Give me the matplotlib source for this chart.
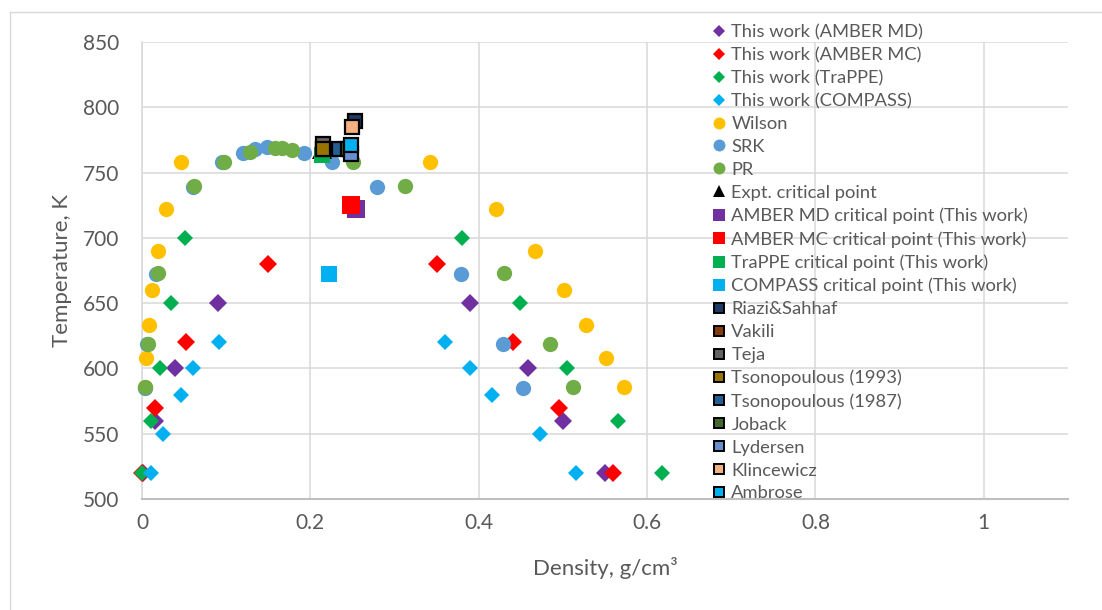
import matplotlib
matplotlib.use("Agg")
import matplotlib.pyplot as plt
from matplotlib.lines import Line2D

plt.rcParams['font.family'] = ['Lato', 'DejaVu Sans']

# ---- coexistence curves (density g/cm3, temperature K) ----
md_rho = [0.001, 0.015, 0.039, 0.090, 0.390, 0.458, 0.500, 0.550]
md_T = [520, 560, 600, 650, 650, 600, 560, 520]

mc_rho = [0.000, 0.015, 0.052, 0.150, 0.350, 0.441, 0.495, 0.560]
mc_T = [520, 570, 620, 680, 680, 620, 570, 520]

trappe_rho = [0.000, 0.011, 0.021, 0.035, 0.051, 0.380, 0.449, 0.505, 0.565, 0.618]
trappe_T = [520, 560, 600, 650, 700, 700, 650, 600, 560, 520]

compass_rho = [0.011, 0.025, 0.046, 0.061, 0.091, 0.360, 0.390, 0.416, 0.473, 0.515]
compass_T = [520, 550, 580, 600, 620, 620, 600, 580, 550, 520]

wilson_rho = [0.004, 0.005, 0.008, 0.012, 0.019, 0.029, 0.046,
              0.342, 0.421, 0.467, 0.501, 0.528, 0.551, 0.572]
wilson_T = [586, 608, 633, 660, 690, 722, 758, 758, 722, 690, 660, 633, 608, 586]

srk_rho = [0.003, 0.006, 0.017, 0.060, 0.095, 0.120, 0.134, 0.148,
           0.192, 0.226, 0.279, 0.379, 0.429, 0.452]
srk_T = [585, 619, 672, 739, 758, 765, 768, 769.5, 765, 758, 739, 672, 619, 585]

pr_rho = [0.004, 0.007, 0.019, 0.062, 0.098, 0.128, 0.158, 0.166,
          0.178, 0.251, 0.313, 0.430, 0.485, 0.512]
pr_T = [585.5, 619, 673, 739.5, 758, 766, 768.5, 768.5, 767.5, 758, 739.5, 673, 619, 585.5]

# ---- critical points (density, temperature) ----
expt_crit = (0.2134, 767.7)
md_crit = (0.2544, 722.3)
mc_crit = (0.2486, 725.4)
trappe_crit = (0.2140, 763.6)
compass_crit = (0.2217, 672.0)

riazi_crit = (0.2530, 789.3)
vakili_crit = (0.2150, 768.3)
teja_crit = (0.2155, 771.9)
tsono1993_crit = (0.2150, 768.3)
tsono1987_crit = (0.2346, 768.3)
joback_crit = (0.2447, 767.7)
lydersen_crit = (0.2486, 764.6)
klincewicz_crit = (0.2496, 784.8)
ambrose_crit = (0.2486, 771.4)

x_ticks = [0, 0.2, 0.4, 0.6, 0.8, 1.0]
x_tick_labels = ['0', '0.2', '0.4', '0.6', '0.8', '1']
y_ticks = [500, 550, 600, 650, 700, 750, 800, 850]

TEXT = '#595959'
GRID = '#D9D9D9'

fig = plt.figure(figsize=(11.02, 6.10), dpi=100)
W, H = 1102, 610
ax = fig.add_axes([142 / W, 1 - 499 / H, (1068 - 142) / W, (499 - 42) / H])

# (label, x, y, marker, face colour, size pt)
curves = [
    ("This work (AMBER MD)", md_rho, md_T, 'D', '#7030A0', 9.6),
    ("This work (AMBER MC)", mc_rho, mc_T, 'D', '#FF0000', 9.6),
    ("This work (TraPPE)", trappe_rho, trappe_T, 'D', '#00B050', 8.3),
    ("This work (COMPASS)", compass_rho, compass_T, 'D', '#00B0F0', 8.3),
    ("Wilson", wilson_rho, wilson_T, 'o', '#FFC000', 11.0),
    ("SRK", srk_rho, srk_T, 'o', '#5B9BD5', 11.0),
    ("PR", pr_rho, pr_T, 'o', '#70AD47', 11.0),
]
crit_plain = [
    ("Expt. critical point", expt_crit, '^', '#000000', 15.0),
    ("AMBER MD critical point (This work)", md_crit, 's', '#7030A0', 12.7),
    ("AMBER MC critical point (This work)", mc_crit, 's', '#FF0000', 12.5),
    ("TraPPE critical point (This work)", trappe_crit, 's', '#00B050', 11.0),
    ("COMPASS critical point (This work)", compass_crit, 's', '#00B0F0', 11.0),
]
crit_edged = [
    ("Riazi&Sahhaf", riazi_crit, '#203864'),
    ("Vakili", vakili_crit, '#843C0C'),
    ("Teja", teja_crit, '#636363'),
    ("Tsonopoulous (1993)", tsono1993_crit, '#997300'),
    ("Tsonopoulous (1987)", tsono1987_crit, '#255E91'),
    ("Joback", joback_crit, '#43682B'),
    ("Lydersen", lydersen_crit, '#698ED0'),
    ("Klincewicz", klincewicz_crit, '#F4B183'),
    ("Ambrose", ambrose_crit, '#00B0F0'),
]

handles = []
z = 3
for label, xs, ys, mk, col, ms in curves:
    ax.plot(xs, ys, linestyle='none', marker=mk, color=col, markersize=ms,
            markeredgewidth=0, zorder=z, clip_on=False)
    z += 0.01
    lms = 6.4 if mk == 'D' else 8.6
    handles.append(Line2D([], [], linestyle='none', marker=mk, color=col,
                          markersize=lms, markeredgewidth=0, label=label))
for label, (xv, yv), mk, col, ms in crit_plain:
    ax.plot([xv], [yv], linestyle='none', marker=mk, color=col, markersize=ms,
            markeredgewidth=0, zorder=z, clip_on=False)
    z += 0.01
    handles.append(Line2D([], [], linestyle='none', marker=mk, color=col,
                          markersize=8.6, markeredgewidth=0, label=label))
for label, (xv, yv), col in crit_edged:
    ax.plot([xv], [yv], linestyle='none', marker='s', markerfacecolor=col,
            markeredgecolor='black', markersize=9.6, markeredgewidth=1.6,
            zorder=z, clip_on=False)
    z += 0.01
    handles.append(Line2D([], [], linestyle='none', marker='s', markerfacecolor=col,
                          markeredgecolor='black', markersize=7.2,
                          markeredgewidth=1.4, label=label))

ax.set_xlim(0, 1.1)
ax.set_ylim(500, 850)
ax.set_xticks(x_ticks)
ax.set_xticklabels(x_tick_labels)
ax.set_yticks(y_ticks)
ax.grid(True, color=GRID, linewidth=1.1)
ax.set_axisbelow(True)
for s in ('top', 'right'):
    ax.spines[s].set_visible(False)
ax.spines['left'].set_color(GRID)
ax.spines['left'].set_linewidth(1.1)
ax.spines['bottom'].set_color('#BFBFBF')
ax.spines['bottom'].set_linewidth(1.5)
ax.tick_params(axis='both', length=0, labelsize=15, labelcolor=TEXT)
ax.tick_params(axis='y', pad=16.5)
ax.tick_params(axis='x', pad=10)

ax.set_ylabel("Temperature, K", fontsize=16, color=TEXT, va='center')
ax.yaxis.set_label_coords((62 - 142) / 926, 0.5)
ax.set_xlabel("Density, g/cm³", fontsize=16, color=TEXT, va='center')
ax.xaxis.set_label_coords(0.5, (499 - 568) / 457)

fig.legend(handles=handles, loc='upper left',
           bbox_to_anchor=(711.8 / W, 1 - 24 / H), frameon=False,
           fontsize=13.2, labelcolor=TEXT, handlelength=0.8, handletextpad=0.27,
           labelspacing=0.375, borderpad=0, borderaxespad=0, numpoints=1)

# chart-area outline (left and top edges)
fig.add_artist(Line2D([10 / W, 10 / W, 1.0], [0.0, 1 - 12 / H, 1 - 12 / H],
                      transform=fig.transFigure, color=GRID, linewidth=1.0))

fig.savefig("out.png", dpi=100)
